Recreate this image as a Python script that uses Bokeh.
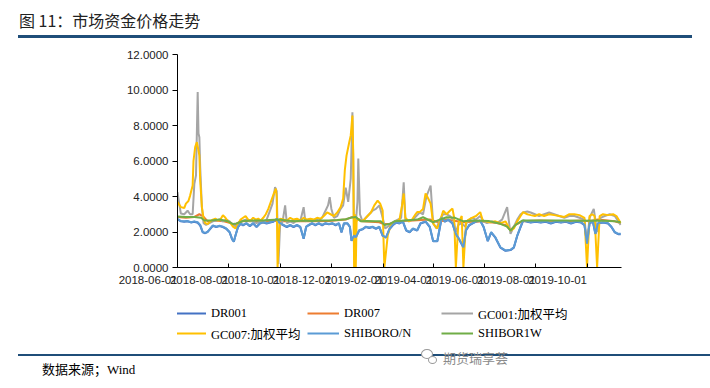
from datetime import datetime
import numpy as np
from bokeh.plotting import figure
from bokeh.layouts import column
from bokeh.models import (Range1d, FixedTicker, NumeralTickFormatter, DatetimeTickFormatter,
                          Legend, LegendItem, Div)
from bokeh.embed import file_html
from bokeh.resources import INLINE

START = "2018-06-01"

x_tick_labels = ["2018-06-01", "2018-08-01", "2018-10-01", "2018-12-01", "2019-02-01",
                 "2019-04-01", "2019-06-01", "2019-08-01", "2019-10-01"]
y_ticks = [0, 2, 4, 6, 8, 10, 12]

title_text = "图 11：市场资金价格走势"
source_text = "数据来源；Wind"
watermark_text = "期货瑞享荟"

series_names = ["DR001", "DR007", "GC001:加权平均", "GC007:加权平均", "SHIBORO/N", "SHIBOR1W"]
series_colors = ["#4472C4", "#ED7D31", "#A5A5A5", "#FFC000", "#5B9BD5", "#70AD47"]

# day offsets from 2018-06-01 and values
shibor_on_day = [0, 4, 8, 12, 16, 20, 24, 27, 30, 33, 36, 39, 42, 46, 50, 54, 58, 62, 65, 67, 69,
                 72, 75, 78, 82, 86, 90, 94, 98, 102, 106, 110, 114, 118, 122, 126, 130, 134, 138,
                 142, 146, 150, 153, 156, 160, 164, 168, 172, 176, 180, 184, 188, 192, 195, 198,
                 202, 205, 207, 210, 212, 216, 220, 224, 228, 232, 236, 240, 244, 248, 252, 256,
                 260, 264, 268, 272, 276, 280, 285, 289, 295, 300, 304, 309, 314, 318, 322, 327,
                 331, 335, 340, 343, 347, 351, 355, 360, 364, 369, 373, 378, 384, 390, 396, 400,
                 404, 408, 411, 416, 420, 426, 432, 438, 444, 450, 456, 462, 468, 474, 480, 484,
                 487, 490, 494, 497, 500, 506, 512, 516, 520, 524, 527]
shibor_on_val = [2.74, 2.62, 2.60, 2.62, 2.55, 2.60, 2.55, 2.40, 2.00, 1.95, 2.00, 2.20, 2.37,
                 2.30, 2.35, 2.30, 2.20, 2.00, 1.60, 1.46, 1.80, 2.30, 2.48, 2.40, 2.50, 2.35,
                 2.50, 2.30, 2.50, 2.55, 2.50, 2.55, 2.60, 2.74, 2.50, 2.40, 2.30, 2.40, 2.30,
                 2.40, 2.30, 1.63, 2.30, 2.40, 2.50, 2.40, 2.50, 2.40, 2.50, 2.45, 2.50, 2.40,
                 2.50, 2.00, 2.50, 2.50, 2.30, 1.52, 1.80, 1.70, 2.10, 2.17, 2.30, 2.25, 2.30,
                 2.20, 2.30, 1.80, 1.70, 2.17, 2.40, 2.55, 2.50, 2.60, 2.10, 2.00, 2.20, 2.10,
                 2.50, 2.60, 2.30, 1.50, 1.50, 2.80, 2.60, 2.70, 2.50, 1.90, 1.60, 1.14, 2.10,
                 2.40, 2.50, 2.60, 2.65, 2.30, 1.50, 2.00, 1.70, 1.14, 0.96, 1.00, 1.14, 1.80,
                 2.30, 2.65, 2.60, 2.55, 2.60, 2.55, 2.60, 2.50, 2.60, 2.55, 2.60, 2.50, 2.60,
                 2.55, 2.40, 1.35, 2.50, 2.60, 1.90, 2.50, 2.55, 2.50, 2.30, 2.00, 1.90, 1.90]

dr001_day = list(shibor_on_day)
dr001_val = [2.72, 2.60, 2.58, 2.60, 2.54, 2.58, 2.52, 2.36, 1.98, 1.93, 2.02, 2.18, 2.35,
             2.28, 2.33, 2.28, 2.18, 1.98, 1.58, 1.45, 1.82, 2.28, 2.46, 2.38, 2.48, 2.33,
             2.48, 2.28, 2.48, 2.53, 2.48, 2.53, 2.58, 2.70, 2.48, 2.38, 2.28, 2.38, 2.28,
             2.38, 2.28, 1.62, 2.28, 2.38, 2.48, 2.38, 2.48, 2.38, 2.48, 2.43, 2.48, 2.38,
             2.48, 1.98, 2.48, 2.48, 2.28, 1.50, 1.78, 1.68, 2.08, 2.15, 2.28, 2.23, 2.28,
             2.18, 2.28, 1.78, 1.68, 2.15, 2.38, 2.53, 2.48, 2.58, 2.08, 1.98, 2.18, 2.08,
             2.48, 2.58, 2.28, 1.48, 1.48, 2.76, 2.58, 2.68, 2.48, 1.88, 1.58, 1.12, 2.08,
             2.38, 2.48, 2.58, 2.63, 2.28, 1.48, 1.98, 1.68, 1.12, 0.94, 0.98, 1.12, 1.78,
             2.28, 2.63, 2.58, 2.53, 2.58, 2.53, 2.58, 2.48, 2.58, 2.53, 2.58, 2.48, 2.58,
             2.53, 2.38, 1.33, 2.48, 2.58, 1.88, 2.48, 2.53, 2.48, 2.28, 1.98, 1.88, 1.88]

dr007_day = [0, 10, 20, 26, 30, 36, 45, 55, 63, 68, 75, 90, 105, 118, 122, 140, 160, 180, 200,
             208, 212, 220, 240, 245, 252, 260, 280, 300, 310, 320, 340, 360, 380, 390, 396, 402,
             410, 430, 460, 480, 490, 500, 520, 527]
dr007_val = [2.85, 2.80, 2.85, 3.00, 2.90, 2.60, 2.65, 2.60, 2.50, 2.40, 2.60, 2.62, 2.60, 2.65,
             2.60, 2.60, 2.60, 2.62, 2.70, 2.85, 2.80, 2.60, 2.55, 2.45, 2.45, 2.60, 2.65, 2.70,
             2.55, 2.70, 2.55, 2.60, 2.50, 2.40, 2.10, 2.40, 2.60, 2.65, 2.60, 2.65, 2.60, 2.70,
             2.60, 2.50]

gc001_day = [0, 2, 4, 8, 12, 15, 18, 20, 22, 24, 25, 26, 27, 29, 31, 34, 38, 42, 46, 50, 54, 58,
             62, 66, 70, 74, 78, 82, 86, 90, 94, 98, 102, 106, 110, 113, 116, 118, 120, 122, 125,
             128, 130, 134, 138, 142, 146, 150, 152, 156, 160, 164, 168, 172, 176, 179, 181, 183,
             186, 190, 194, 197, 200, 203, 206, 208, 209, 210, 212, 214, 215, 217, 220, 224, 228,
             232, 236, 240, 244, 247, 250, 254, 258, 262, 266, 269, 271, 275, 280, 284, 288, 292,
             296, 301, 304, 308, 312, 316, 320, 324, 328, 331, 334, 338, 342, 345, 350, 355, 360,
             364, 368, 374, 380, 386, 392, 396, 400, 404, 408, 411, 416, 420, 425, 430, 436, 442,
             448, 454, 460, 466, 472, 478, 484, 487, 490, 495, 499, 503, 508, 514, 520, 527]
gc001_val = [4.24, 3.60, 3.04, 3.00, 3.20, 3.00, 3.00, 4.70, 5.20, 9.88, 7.55, 7.34, 5.65, 3.40,
             2.50, 2.40, 2.50, 2.60, 2.65, 2.70, 2.60, 2.70, 2.60, 2.40, 2.30, 2.50, 2.65, 2.70,
             2.60, 2.60, 2.50, 2.60, 2.50, 2.70, 3.20, 3.60, 4.52, 4.30, 0.20, 2.40, 2.60, 3.50,
             2.50, 2.60, 2.50, 2.70, 2.60, 3.40, 2.60, 2.70, 2.60, 2.70, 2.65, 2.80, 3.20, 3.50,
             3.96, 3.30, 2.80, 2.90, 3.30, 3.50, 4.50, 3.70, 5.00, 8.75, 6.00, 1.00, 2.50, 3.70,
             6.14, 3.00, 2.60, 2.80, 3.00, 3.20, 3.30, 3.50, 2.80, 2.20, 2.30, 2.40, 2.60, 2.70,
             2.80, 4.80, 2.70, 2.60, 2.70, 2.90, 3.10, 3.00, 4.00, 4.62, 2.48, 2.20, 2.70, 3.00,
             3.00, 2.90, 2.70, 2.00, 2.40, 2.50, 2.30, 2.60, 2.80, 2.70, 2.90, 2.60, 2.50, 2.60,
             2.50, 2.70, 3.40, 1.90, 2.30, 2.70, 3.00, 3.10, 3.15, 3.10, 3.00, 2.90, 3.00, 3.10,
             3.00, 2.90, 2.80, 2.90, 2.90, 2.80, 2.70, 1.35, 2.80, 3.30, 2.00, 2.80, 2.90, 3.00,
             2.90, 2.40]

gc007_day = [0, 4, 8, 10, 13, 15, 18, 19, 21, 23, 25, 26, 27, 29, 31, 33, 36, 39, 42, 45, 48, 51,
             54, 57, 60, 63, 66, 69, 72, 75, 78, 81, 84, 87, 90, 93, 96, 99, 102, 105, 108, 111,
             114, 117, 118, 119, 121, 122, 126, 130, 134, 138, 142, 146, 150, 154, 158, 162, 166,
             170, 174, 178, 182, 186, 190, 194, 197, 199, 201, 204, 206, 208, 209, 210, 211, 212,
             213, 215, 218, 222, 226, 230, 234, 238, 241, 244, 246, 250, 253, 256, 260, 264, 267,
             269, 271, 275, 279, 283, 285, 288, 292, 295, 298, 301, 304, 307, 309, 312, 316, 320,
             324, 327, 329, 331, 334, 338, 340, 343, 345, 350, 355, 360, 363, 366, 372, 378, 384,
             390, 396, 400, 404, 408, 411, 416, 420, 425, 430, 436, 442, 448, 454, 460, 466, 472,
             478, 484, 487, 490, 493, 496, 499, 502, 506, 512, 518, 522, 527]
gc007_val = [3.68, 3.40, 3.35, 3.60, 3.75, 4.05, 4.62, 6.00, 6.78, 7.06, 6.59, 6.31, 4.90, 3.40,
             2.76, 2.50, 2.45, 2.60, 2.70, 2.75, 2.65, 2.70, 2.95, 2.80, 2.60, 2.50, 2.30, 2.20,
             2.45, 2.70, 2.80, 2.90, 2.70, 2.65, 2.80, 2.70, 2.75, 2.65, 2.80, 3.00, 3.30, 3.70,
             4.10, 4.44, 3.96, 0.00, 2.20, 2.75, 2.70, 2.65, 2.80, 2.70, 2.75, 2.65, 2.80, 2.70,
             2.75, 2.70, 2.80, 2.75, 2.90, 3.10, 3.00, 2.90, 3.10, 3.40, 3.89, 5.50, 6.30, 7.00,
             7.44, 8.56, 6.42, 0.00, 3.00, 0.00, 2.60, 2.75, 2.60, 2.70, 2.90, 3.10, 3.50, 3.77,
             3.60, 3.20, 0.00, 1.80, 2.30, 2.50, 2.60, 2.70, 3.50, 4.17, 2.80, 2.60, 2.70, 3.00,
             3.12, 3.12, 3.30, 4.17, 3.90, 3.60, 2.48, 2.30, 2.20, 2.60, 3.20, 3.00, 3.20, 3.32,
             2.80, 0.00, 2.50, 2.90, 0.00, 2.50, 2.65, 2.80, 2.90, 3.12, 2.65, 2.60, 2.55, 2.60,
             2.50, 2.60, 2.08, 2.20, 2.60, 2.90, 3.12, 3.00, 2.95, 2.90, 3.00, 2.90, 3.00, 2.95,
             2.90, 2.85, 3.00, 3.00, 2.95, 2.80, 0.00, 2.90, 3.00, 2.90, 0.00, 2.90, 3.00, 2.95,
             3.00, 2.90, 2.50]

shibor_1w_day = [0, 10, 20, 28, 32, 40, 50, 60, 66, 70, 78, 90, 100, 110, 120, 130, 140, 150, 160,
                 170, 180, 190, 200, 206, 212, 218, 225, 235, 242, 246, 252, 258, 270, 285, 292,
                 304, 312, 320, 330, 340, 350, 370, 384, 392, 396, 402, 410, 430, 460, 480, 500,
                 520, 527]
shibor_1w_val = [2.88, 2.85, 2.85, 2.80, 2.65, 2.65, 2.70, 2.60, 2.45, 2.48, 2.62, 2.65, 2.65,
                 2.68, 2.70, 2.65, 2.60, 2.65, 2.62, 2.65, 2.65, 2.68, 2.72, 2.80, 2.85, 2.60,
                 2.62, 2.60, 2.60, 2.40, 2.45, 2.60, 2.65, 2.70, 2.83, 2.55, 2.70, 2.83, 2.80,
                 2.60, 2.65, 2.62, 2.46, 2.30, 2.08, 2.40, 2.65, 2.65, 2.65, 2.63, 2.65, 2.60,
                 2.55]

all_days = [dr001_day, dr007_day, gc001_day, gc007_day, shibor_on_day, shibor_1w_day]
all_vals = [dr001_val, dr007_val, gc001_val, gc007_val, shibor_on_val, shibor_1w_val]


def to_dates(days):
    return (np.datetime64(START) + np.array(days).astype("timedelta64[D]")).astype("datetime64[ms]")


def to_ms(s):
    return float((np.datetime64(s) - np.datetime64("1970-01-01")).astype("timedelta64[ms]").astype(np.int64))


RULE = "#1F4E79"
SERIF = "Liberation Serif, Noto Sans CJK SC"
W = 710
BORDER_L, BORDER_R = 177, 89

# ---- header (HTML) ----
header_html = (
    '<div style="position:relative;width:710px;height:40px;">'
    '<div style="position:absolute;left:19px;top:10px;white-space:nowrap;'
    'font-family:\'Noto Sans CJK SC\';font-size:16px;line-height:20px;color:#222222;">'
    + title_text + '</div>'
    '<div style="position:absolute;left:18px;top:35px;width:674px;height:3px;background:'
    + RULE + ';"></div></div>'
)
header = Div(text=header_html, width=W, height=40, margin=0)

# ---- main chart ----
p = figure(width=W, height=260, x_axis_type="datetime", output_backend="svg", toolbar_location=None,
           x_range=Range1d(datetime(2018, 6, 1), datetime(2019, 11, 11)), y_range=Range1d(0, 12),
           min_border_left=BORDER_L, min_border_right=BORDER_R, min_border_top=14,
           min_border_bottom=33)
p.outline_line_color = None
p.xgrid.visible = False
p.ygrid.visible = False
p.background_fill_color = "white"
p.border_fill_color = "white"

AX_FONT = "Liberation Sans"
p.yaxis.ticker = FixedTicker(ticks=y_ticks)
p.yaxis.formatter = NumeralTickFormatter(format="0.0000")
p.yaxis.major_tick_out = 5
p.yaxis.major_tick_in = 0
p.yaxis.minor_tick_out = 0
p.yaxis.minor_tick_in = 0
p.yaxis.minor_tick_line_color = None
p.yaxis.major_label_standoff = 4
p.yaxis.major_label_text_font = AX_FONT
p.yaxis.major_label_text_font_size = "11.5px"
p.yaxis.major_label_text_color = "#222222"
p.yaxis.axis_line_color = "#000000"
p.yaxis.major_tick_line_color = "#000000"

p.xaxis.ticker = FixedTicker(ticks=[to_ms(s) for s in x_tick_labels])
fmt = "%Y-%m-%d"
p.xaxis.formatter = DatetimeTickFormatter(milliseconds=fmt, seconds=fmt, minsec=fmt, minutes=fmt,
                                          hourmin=fmt, hours=fmt, days=fmt, months=fmt, years=fmt)
p.xaxis.major_tick_in = 4
p.xaxis.major_tick_out = 0
p.xaxis.minor_tick_out = 0
p.xaxis.minor_tick_in = 0
p.xaxis.minor_tick_line_color = None
p.xaxis.major_label_orientation = 0.0001
p.xaxis.major_label_standoff = 12
p.xaxis.major_label_text_font = AX_FONT
p.xaxis.major_label_text_font_size = "11.5px"
p.xaxis.major_label_text_color = "#222222"
p.xaxis.axis_line_color = "#000000"
p.xaxis.major_tick_line_color = "#000000"

for days, vals, color in zip(all_days, all_vals, series_colors):
    p.line(to_dates(days), vals, line_color=color, line_width=2)

# ---- legend strip: its own small figure whose key lines fall outside its (0..1) range ----
lg = figure(width=W, height=48, x_range=Range1d(0, 1), y_range=Range1d(0, 1),
            output_backend="svg", toolbar_location=None, x_axis_location=None,
            y_axis_location=None, min_border_left=BORDER_L, min_border_right=BORDER_R,
            min_border_top=0, min_border_bottom=0)
lg.outline_line_color = None
lg.xgrid.visible = False
lg.ygrid.visible = False
lg.border_fill_color = "white"
keys = [lg.line(to_dates(d), v, line_color=c, line_width=2)
        for d, v, c in zip(all_days, all_vals, series_colors)]


def add_legend(idx, loc):
    items = [LegendItem(label=series_names[i], renderers=[keys[i]]) for i in idx]
    leg = Legend(items=items, location=loc, orientation="vertical", padding=0, margin=0, spacing=0,
                 glyph_width=32, glyph_height=20, label_height=20, label_standoff=5,
                 label_text_font=SERIF, label_text_font_size="12.5px", label_text_color="#000000",
                 border_line_alpha=0, background_fill_alpha=0)
    lg.add_layout(leg)


add_legend([0, 3], (-3, 5))
add_legend([1, 4], (130, 5))
add_legend([2, 5], (264, 5))

# ---- footer (HTML) ----
footer_html = (
    '<div style="position:relative;width:710px;height:40px;">'
    '<div style="position:absolute;left:18px;top:6px;width:692px;height:2px;background:'
    + RULE + ';"></div>'
    '<div style="position:absolute;left:421px;top:1px;width:12px;height:10px;border:1px solid #9a9a9a;'
    'border-radius:50%;background:white;"></div>'
    '<div style="position:absolute;left:428px;top:8px;width:9px;height:8px;border:1px solid #9a9a9a;'
    'border-radius:50%;background:white;"></div>'
    '<div style="position:absolute;left:443px;top:1px;white-space:nowrap;font-family:\'Noto Sans CJK SC\';'
    'font-size:13px;line-height:17px;color:#8a8a8a;">' + watermark_text + '</div>'
    '<div style="position:absolute;left:42px;top:14px;white-space:nowrap;'
    'font-family:\'Liberation Serif\',\'Noto Sans CJK SC\';font-size:13px;line-height:16px;color:#000000;">'
    + source_text + '</div></div>'
)
footer = Div(text=footer_html, width=W, height=40, margin=0)

layout = column(header, p, lg, footer, spacing=0)
open("out.html", "w").write(file_html(layout, INLINE))
